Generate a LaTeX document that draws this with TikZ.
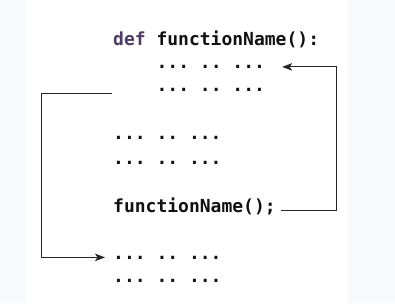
\documentclass[tikz,border=0pt]{standalone}
\usepackage{fontspec}
\setmonofont{DejaVu Sans Mono}
\usepackage{xcolor}
\usepackage{tikz}
\usetikzlibrary{arrows.meta,positioning}

\definecolor{pagebg}{HTML}{F8F9FB}
\definecolor{kwcolor}{HTML}{4E3B63}
\definecolor{codeink}{HTML}{111111}

\begin{document}
\begin{tikzpicture}[
  x=1pt, y=-1pt,
  code/.style={
    anchor=base west, inner sep=0pt, text=codeink,
    font=\fontsize{18}{20}\selectfont\ttfamily\bfseries
  },
  arr/.style={-{Stealth[length=10pt,width=7.5pt,inset=2.5pt]}, line width=0.9pt, black!85}
]

% Background
\fill[pagebg] (0,0) rectangle (395,303);
\fill[white] (26,0) rectangle (348,303);
\useasboundingbox (0,0) rectangle (395,303);

% Function definition
\node[code] (head) at (113,45) {\textcolor{kwcolor}{def} functionName():};
\node[code] (body1) at (156.4,68.5) {... .. ...};
\node[code] (body2) at (156.4,91.5) {... .. ...};

% Main program
\node[code] (before1) at (113,139.5) {... .. ...};
\node[code] (before2) at (113,164) {... .. ...};
\node[code] (call) at (113,212) {functionName();};
\node[code] (after1) at (113,259) {... .. ...};
\node[code] (after2) at (113,282.5) {... .. ...};

% Call goes to the function body
\draw[arr] ([xshift=5pt,yshift=2pt]call.base east) -- ++(55,0)
  |- ([xshift=17pt]body1.east);

% Return to the line after the call
\coordinate (ret) at (112,93);
\draw[arr] (ret) -- ++(-71,0) |- ([xshift=-8pt]after1.west);

\end{tikzpicture}
\end{document}
